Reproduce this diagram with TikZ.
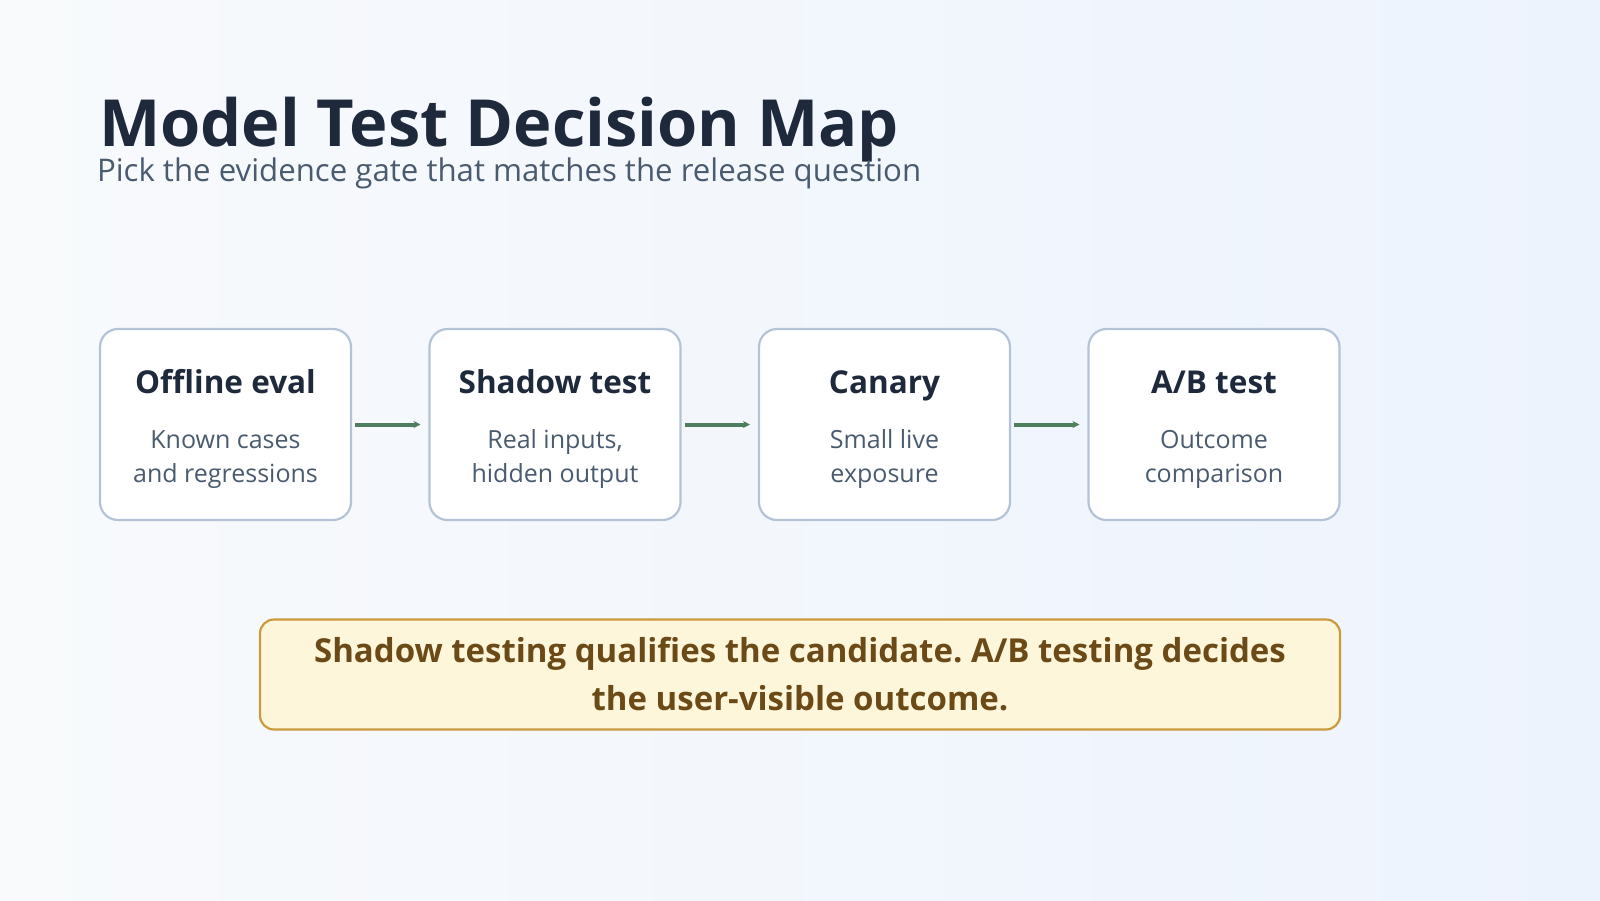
\documentclass[tikz,border=0pt]{standalone}
\usepackage{fontspec}
\setmainfont{Open Sans}
\usetikzlibrary{positioning,arrows.meta}
\definecolor{bgA}{HTML}{F8FAFC}
\definecolor{bgB}{HTML}{EDF3FD}
\definecolor{ink}{HTML}{1E293B}
\definecolor{muted}{HTML}{4A5B70}
\definecolor{edge}{HTML}{B4C4D6}
\definecolor{flow}{HTML}{4E7E5E}
\definecolor{noteFill}{HTML}{FEF6DB}
\definecolor{noteEdge}{HTML}{CC9A3E}
\definecolor{noteInk}{HTML}{6B4A17}
\frenchspacing

\begin{document}
\begin{tikzpicture}[x=1pt,y=-1pt,>={Stealth[length=7pt,width=7pt]},
    every node/.style={inner sep=0pt,outer sep=0pt},
    stage/.style={draw=edge,line width=2.2pt,fill=white,rounded corners=18pt,
                  minimum width=251pt,minimum height=191pt},
    stagetitle/.style={text=ink,font=\fontsize{31.5}{36}\selectfont\bfseries},
    stagetext/.style={text=muted,align=center,font=\fontsize{25}{34}\selectfont},
    step arrow/.style={->,draw=flow,line width=4pt}]
    % background
    \shade[left color=bgA,right color=bgB] (0,0) rectangle (1600,900);
    \useasboundingbox (0,0) rectangle (1600,900);
    % heading
    \node [anchor=base west,text=ink,font=\fontsize{65}{70}\selectfont\bfseries] (title) at (99,146) {Model Test Decision Map};
    \node [anchor=base west,text=muted,font=\fontsize{31.2}{36}\selectfont] (subtitle) at (97,181) {Pick the evidence gate that matches the release question};
    % stages
    \node [stage] (offline) at (225.5,424.5) {};
    \node [stage,right=78.5pt of offline] (shadow) {};
    \node [stage,right=78.5pt of shadow] (canary) {};
    \node [stage,right=78.5pt of canary] (abtest) {};
    \node [stagetitle,anchor=base] (offlineT) at ([yshift=31.5pt]offline.center) {Offline eval};
    \node [stagetitle,anchor=base] (shadowT) at ([yshift=31.5pt]shadow.center) {Shadow test};
    \node [stagetitle,anchor=base] (canaryT) at ([yshift=31.5pt]canary.center) {Canary};
    \node [stagetitle,anchor=base] (abtestT) at ([yshift=31.5pt]abtest.center) {A/B test};
    \node [stagetext,anchor=base] (offlineD) at ([yshift=-57.5pt]offline.center) {Known cases\\and regressions};
    \node [stagetext,anchor=base] (shadowD) at ([yshift=-57.5pt]shadow.center) {Real inputs,\\hidden output};
    \node [stagetext,anchor=base] (canaryD) at ([yshift=-57.5pt]canary.center) {Small live\\exposure};
    \node [stagetext,anchor=base] (abtestD) at ([yshift=-57.5pt]abtest.center) {Outcome\\comparison};
    \draw [step arrow] ([xshift=4pt]offline.east) -- ([xshift=-9pt]shadow.west);
    \draw [step arrow] ([xshift=4pt]shadow.east) -- ([xshift=-9pt]canary.west);
    \draw [step arrow] ([xshift=4pt]canary.east) -- ([xshift=-9pt]abtest.west);
    % takeaway
    \node [draw=noteEdge,line width=2.2pt,fill=noteFill,rounded corners=14pt,
           minimum width=1080pt,minimum height=110pt,text=noteInk,align=center,
           font=\fontsize{33}{48}\selectfont\bfseries] (note) at (800,674.5)
          {Shadow testing qualifies the candidate. A/B testing decides\\the user-visible outcome.};
\end{tikzpicture}
\end{document}
